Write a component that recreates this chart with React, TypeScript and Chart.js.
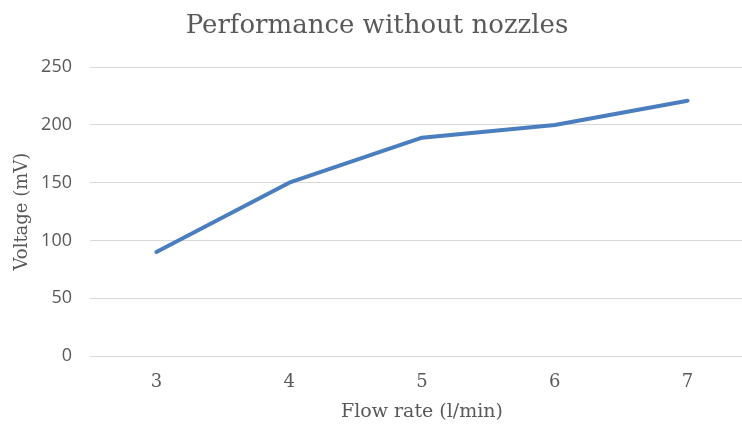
import React, { useEffect, useRef } from "react";
import { Chart, registerables } from "chart.js";

Chart.register(...registerables);

const flowRates = ["3", "4", "5", "6", "7"];
const voltages = [90, 150, 189, 200, 221];
const yTickMin = 0;
const yTickMax = 250;
const yTickStep = 50;

const chartTitle = "Performance without nozzles";
const xAxisTitle = "Flow rate (l/min)";
const yAxisTitle = "Voltage (mV)";

const TEXT = "#595959";
const GRID = "#d9d9d9";
const LINE = "#4a7ebf";
const SERIF = "'DejaVu Serif', serif";
const SANS = "'Open Sans', sans-serif";

export default function App() {
  const ref = useRef<HTMLCanvasElement | null>(null);

  useEffect(() => {
    if (!ref.current) return;
    const chart = new Chart(ref.current, {
      type: "line",
      data: {
        labels: flowRates,
        datasets: [
          {
            label: "Voltage",
            data: voltages,
            borderColor: LINE,
            backgroundColor: LINE,
            borderWidth: 4,
            pointRadius: 0,
            tension: 0,
            borderCapStyle: "round",
            borderJoinStyle: "round",
          },
        ],
      },
      options: {
        responsive: false,
        animation: false,
        devicePixelRatio: 1,
        layout: { padding: { left: 0, right: 2, top: 0, bottom: 0 } },
        plugins: {
          legend: { display: false },
          tooltip: { enabled: false },
          title: {
            display: true,
            text: chartTitle,
            color: TEXT,
            font: { family: SERIF, size: 26, weight: "normal" },
            padding: { top: 11, bottom: 25 },
          },
        },
        scales: {
          x: {
            type: "category",
            offset: true,
            grid: { display: false, drawTicks: false },
            border: { display: true, color: GRID, width: 1 },
            ticks: { color: TEXT, font: { family: SERIF, size: 18 }, padding: 16 },
            title: {
              display: true,
              text: xAxisTitle,
              color: TEXT,
              font: { family: SERIF, size: 19 },
              padding: { top: 0, bottom: 1 },
            },
            afterFit: (scale: any) => {
              scale.height = 68;
            },
          },
          y: {
            min: yTickMin,
            max: yTickMax,
            grid: { color: GRID, drawTicks: false },
            border: { display: false },
            ticks: {
              stepSize: yTickStep,
              color: TEXT,
              font: { family: SANS, size: 18 },
              padding: 18,
            },
            title: {
              display: true,
              text: yAxisTitle,
              color: TEXT,
              font: { family: SERIF, size: 18 },
              padding: { top: 12, bottom: 0 },
            },
            afterFit: (scale: any) => {
              scale.width = 90;
            },
          },
        },
      },
    });
    return () => chart.destroy();
  }, []);

  return (
    <div
      style={{
        position: "fixed",
        left: 0,
        top: 0,
        width: 742,
        height: 424,
        overflow: "hidden",
        background: "#fff",
      }}
    >
      <canvas ref={ref} width={756} height={424} style={{ display: "block" }} />
    </div>
  );
}
